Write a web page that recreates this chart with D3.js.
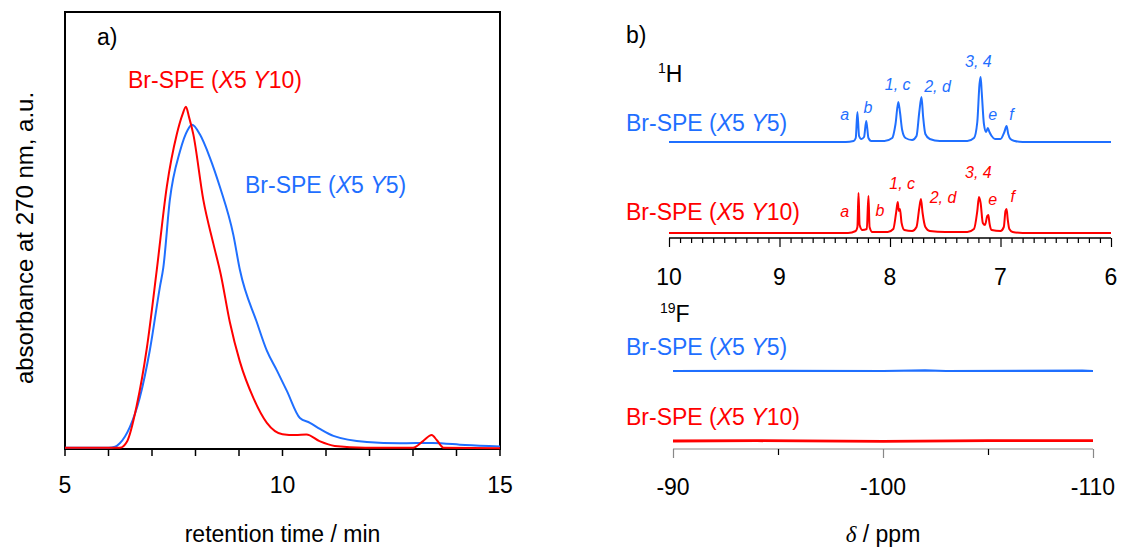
<!DOCTYPE html>
<html>
<head>
<meta charset="utf-8">
<script src="https://cdn.jsdelivr.net/npm/d3@7"></script>
<style>
  body { margin: 0; background: #fff; }
  svg { font-family: "Liberation Sans", Arial, sans-serif; }
</style>
</head>
<body>
<div id="container"></div>
<script>
// ---- data ----
// GPC traces: [retention time (min), absorbance (a.u., 1 = top of frame)]
var gpcRed = [[5,0.003],[6.0,0.003],[6.26,0.003],[6.43,0.018],[6.65,0.10],[6.88,0.23],[7.11,0.41],
  [7.34,0.60],[7.57,0.72],[7.7,0.765],[7.78,0.783],[7.85,0.76],[7.95,0.72],[8.18,0.57],[8.41,0.47],[8.58,0.40],
  [8.79,0.29],[9.02,0.20],[9.33,0.117],[9.64,0.06],[10.0,0.034],[10.3,0.032],[10.55,0.033],
  [10.85,0.018],[11.2,0.007],[11.9,0.003],[13.0,0.003],[13.23,0.018],[13.43,0.032],[13.55,0.02],
  [13.7,0.003],[15,0.002]]
var gpcBlue = [[5,0.003],[6.0,0.003],[6.15,0.005],[6.26,0.013],[6.49,0.05],[6.72,0.118],[6.95,0.226],
  [7.18,0.37],[7.26,0.415],[7.41,0.57],[7.64,0.68],[7.82,0.73],[7.92,0.742],[8.1,0.72],[8.33,0.667],[8.56,0.60],
  [8.87,0.49],[9.02,0.41],[9.41,0.29],[9.64,0.225],[9.87,0.18],[10.1,0.133],[10.4,0.071],
  [10.63,0.06],[10.86,0.046],[11.17,0.030],[11.94,0.016],[12.7,0.013],[13.45,0.014],[14.2,0.009],
  [15,0.006]]
var gpcTicks = [5, 6, 7, 8, 9, 10, 11, 12, 13, 14, 15]
var gpcLabels = [5, 10, 15]

// 1H NMR: [ppm, intensity]
var hBlue = [[10,0],[8.40,0],[8.33,1],[8.31,4],[8.295,30],[8.28,6],[8.26,3],[8.235,5],[8.215,21],
  [8.195,4],[8.17,1],[8.05,1],[7.98,4],[7.95,18],[7.925,40],[7.91,30],[7.89,12],[7.86,4],[7.80,2],
  [7.76,6],[7.735,30],[7.715,45],[7.70,25],[7.68,8],[7.64,3],[7.55,1],[7.30,1],[7.24,4],[7.21,20],
  [7.19,58],[7.18,65],[7.17,50],[7.15,18],[7.13,10],[7.115,14],[7.10,10],[7.08,6],[7.05,3],[7.0,3],
  [6.965,10],[6.945,16],[6.93,8],[6.91,3],[6.87,1],[6.80,0],[6,0]]
var hRed = [[10,0],[8.38,0],[8.31,2],[8.295,6],[8.285,40],[8.275,8],[8.25,3],[8.21,4],[8.195,37],
  [8.185,6],[8.16,1],[8.02,1],[7.97,4],[7.945,20],[7.93,31],[7.92,22],[7.91,24],[7.895,10],[7.87,3],
  [7.80,2],[7.76,6],[7.735,25],[7.72,34],[7.705,20],[7.68,6],[7.64,2],[7.50,1],[7.30,1],[7.24,4],
  [7.21,22],[7.195,36],[7.18,30],[7.16,10],[7.14,8],[7.12,17],[7.11,18],[7.10,10],[7.08,3],[7.0,2],
  [6.97,6],[6.955,22],[6.945,24],[6.935,14],[6.92,4],[6.89,1],[6.80,0],[6,0]]
var hLabels = ["10", "9", "8", "7", "6"]

// peak assignment labels: name, ppm position, height above baseline (intensity units)
var peakNames = ["a", "b", "1, c", "2, d", "3, 4", "e", "f"]
var peakPpmBlue = [8.41, 8.20, 7.93, 7.57, 7.20, 7.07, 6.90]
var peakHtBlue = [22, 29, 52, 50, 75, 22, 22]
var peakPpmRed = [8.41, 8.09, 7.89, 7.52, 7.20, 7.07, 6.89]
var peakHtRed = [16, 17, 44, 30, 55, 28, 31]

// 19F NMR: [ppm, intensity] (flat, no signal)
var fBlue = [[-90,0],[-95,0.2],[-100,0],[-102,0.6],[-103,0],[-109.5,0.3],[-110,0]]
var fRed = [[-90,0],[-94,0.3],[-100,-0.3],[-105,0.3],[-110,0.4]]
var fTicks = [-90, -95, -100, -105, -110]
var fLabels = [-90, -100, -110]

var RED = "#ff0000", BLUE = "#1f6fff"

var svg = d3.select("#container").append("svg")
  .attr("width", 1121).attr("height", 550)

// helper: "Br-SPE (X5 Y10)" with italic X, Y
function sampleLabel(g, x, y, y2, color) {
  var t = g.append("text").attr("x", x).attr("y", y)
    .attr("fill", color).attr("font-size", 23)
  t.append("tspan").text("Br-SPE ")
  t.append("tspan").text("(")
  t.append("tspan").attr("font-style", "italic").text("X")
  t.append("tspan").text("5 ")
  t.append("tspan").attr("font-style", "italic").text("Y")
  t.append("tspan").text(y2 + ")")
  return t
}

// ================= panel a =================
var xA = d3.scaleLinear().domain([5, 15]).range([65, 500])
var yA = d3.scaleLinear().domain([0, 1]).range([449, 12])

var gA = svg.append("g")

gA.append("rect")
  .attr("x", xA(5)).attr("y", yA(1))
  .attr("width", xA(15) - xA(5)).attr("height", yA(0) - yA(1))
  .attr("fill", "none").attr("stroke", "#000").attr("stroke-width", 2)

gA.selectAll(".tick-a").data(gpcTicks).enter().append("line")
  .attr("x1", function(d) { return xA(d) }).attr("x2", function(d) { return xA(d) })
  .attr("y1", yA(0)).attr("y2", yA(0) + 7)
  .attr("stroke", "#000").attr("stroke-width", 1.5)

gA.selectAll(".lab-a").data(gpcLabels).enter().append("text")
  .attr("x", function(d) { return xA(d) }).attr("y", 493)
  .attr("text-anchor", "middle").attr("font-size", 23)
  .text(function(d) { return d })

gA.append("text").attr("x", xA(10)).attr("y", 542)
  .attr("text-anchor", "middle").attr("font-size", 23)
  .text("retention time / min")

gA.append("text")
  .attr("transform", "translate(33," + 238 + ") rotate(-90)")
  .attr("text-anchor", "middle").attr("font-size", 24)
  .text("absorbance at 270 nm, a.u.")

var lineA = d3.line()
  .x(function(d) { return xA(d[0]) })
  .y(function(d) { return yA(d[1]) })
  .curve(d3.curveMonotoneX)

gA.append("path").datum(gpcBlue).attr("d", lineA)
  .attr("fill", "none").attr("stroke", BLUE).attr("stroke-width", 2)
gA.append("path").datum(gpcRed).attr("d", lineA)
  .attr("fill", "none").attr("stroke", RED).attr("stroke-width", 2)

gA.append("text").attr("x", 97).attr("y", 45).attr("font-size", 23).text("a)")
sampleLabel(gA, 128, 88, "10", RED)
sampleLabel(gA, 245, 193, "5", BLUE)

// ================= panel b, 1H =================
var xH = d3.scaleLinear().domain([10, 6]).range([669, 1111])
var yH = d3.scaleLinear().domain([0, 100]).range([0, -100])

var gB = svg.append("g")
gB.append("text").attr("x", 626).attr("y", 43).attr("font-size", 23).text("b)")

var h = gB.append("text").attr("x", 658).attr("y", 82).attr("font-size", 23)
h.append("tspan").attr("font-size", 14).attr("dy", -9).text("1")
h.append("tspan").attr("dy", 9).text("H")

var lineH = d3.line()
  .x(function(d) { return xH(d[0]) })
  .y(function(d) { return yH(d[1]) })
  .curve(d3.curveMonotoneX)

var blueH = gB.append("g").attr("transform", "translate(0,142)")
blueH.append("path").datum(hBlue).attr("d", lineH)
  .attr("fill", "none").attr("stroke", BLUE).attr("stroke-width", 2)

var redH = gB.append("g").attr("transform", "translate(0,233)")
redH.append("path").datum(hRed).attr("d", lineH)
  .attr("fill", "none").attr("stroke", RED).attr("stroke-width", 2)

sampleLabel(gB, 626, 131, "5", BLUE)
sampleLabel(gB, 626, 220, "10", RED)

blueH.selectAll(".pk").data(peakNames).enter().append("text")
  .attr("x", function(d, i) { return xH(peakPpmBlue[i]) })
  .attr("y", function(d, i) { return yH(peakHtBlue[i]) })
  .attr("text-anchor", "middle").attr("font-size", 16).attr("font-style", "italic")
  .attr("fill", BLUE).text(function(d) { return d })
redH.selectAll(".pk").data(peakNames).enter().append("text")
  .attr("x", function(d, i) { return xH(peakPpmRed[i]) })
  .attr("y", function(d, i) { return yH(peakHtRed[i]) })
  .attr("text-anchor", "middle").attr("font-size", 16).attr("font-style", "italic")
  .attr("fill", RED).text(function(d) { return d })

// 1H axis
var axisH = d3.axisBottom(xH)
  .tickValues(d3.range(0, 41).map(function(i) { return 10 - i / 10 }))
  .tickSize(5).tickFormat("")
var gxH = gB.append("g").attr("transform", "translate(0,238)").call(axisH)
gxH.select(".domain").attr("stroke", "#000").attr("stroke-width", 1.5).attr("d", "M" + xH(10) + ",0H" + xH(6))
gxH.selectAll(".tick line").attr("stroke", "#000").attr("stroke-width", 1.2)
  .attr("y2", function(d, i) { return i % 10 === 0 ? 9 : 5 })
gB.selectAll(".lab-h").data(hLabels).enter().append("text")
  .attr("x", function(d) { return xH(+d) }).attr("y", 285)
  .attr("text-anchor", "middle").attr("font-size", 23).text(function(d) { return d })

// ================= panel b, 19F =================
var xF = d3.scaleLinear().domain([-90, -110]).range([673, 1093])
var yF = d3.scaleLinear().domain([0, 10]).range([0, -10])

var f = gB.append("text").attr("x", 660).attr("y", 322).attr("font-size", 23)
f.append("tspan").attr("font-size", 14).attr("dy", -9).text("19")
f.append("tspan").attr("dy", 9).text("F")

sampleLabel(gB, 626, 355, "5", BLUE)
sampleLabel(gB, 626, 425, "10", RED)

var lineF = d3.line()
  .x(function(d) { return xF(d[0]) })
  .y(function(d) { return yF(d[1]) })

gB.append("g").attr("transform", "translate(0,371)")
  .append("path").datum(fBlue).attr("d", lineF)
  .attr("fill", "none").attr("stroke", BLUE).attr("stroke-width", 2.2)
gB.append("g").attr("transform", "translate(0,441)")
  .append("path").datum(fRed).attr("d", lineF)
  .attr("fill", "none").attr("stroke", RED).attr("stroke-width", 2.8)

var axisF = d3.axisBottom(xF).tickValues(fTicks).tickSize(9).tickFormat("")
var gxF = gB.append("g").attr("transform", "translate(0,449)").call(axisF)
gxF.select(".domain").attr("stroke", "#888").attr("stroke-width", 1.2).attr("d", "M" + xF(-90) + ",0H" + xF(-110))
gxF.selectAll(".tick line").attr("stroke", function(d) { return d % 10 === 0 ? "#888" : "#000" })
  .attr("stroke-width", 1.2)
  .attr("y2", function(d) { return d % 10 === 0 ? 9 : 6 })
gB.selectAll(".lab-f").data(fLabels).enter().append("text")
  .attr("x", function(d) { return xF(d) }).attr("y", 495)
  .attr("text-anchor", "middle").attr("font-size", 23).text(function(d) { return d })

var dl = gB.append("text").attr("x", xF(-100)).attr("y", 542)
  .attr("text-anchor", "middle").attr("font-size", 23)
dl.append("tspan").attr("font-style", "italic").attr("font-family", "Liberation Serif, serif").text("δ")
dl.append("tspan").text(" / ppm")
</script>
</body>
</html>
